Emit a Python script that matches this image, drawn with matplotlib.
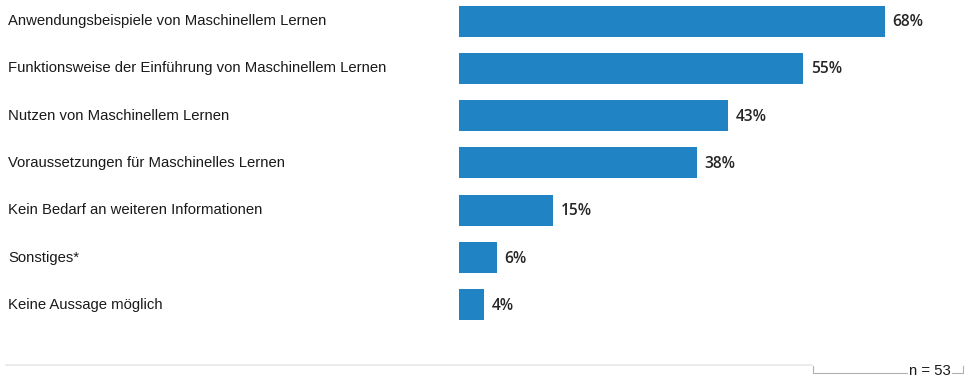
import matplotlib.pyplot as plt
import matplotlib.transforms as mtransforms
from matplotlib.lines import Line2D

categories = [
    "Anwendungsbeispiele von Maschinellem Lernen",
    "Funktionsweise der Einführung von Maschinellem Lernen",
    "Nutzen von Maschinellem Lernen",
    "Voraussetzungen für Maschinelles Lernen",
    "Kein Bedarf an weiteren Informationen",
    "Sonstiges*",
    "Keine Aussage möglich",
]
values = [68, 55, 43, 38, 15, 6, 4]
note = "n = 53"

W, H = 978, 380
plt.rcParams['font.family'] = ['Liberation Sans', 'DejaVu Sans']
fig = plt.figure(figsize=(W / 100, H / 100), dpi=100)

# axes: x from 459px to 959px, y from 0px to 340px
ax = fig.add_axes([459 / W, 1 - 340 / H, 500 / W, 340 / H])
unit = 47.33
ax.set_xlim(0, 500 / 6.26)
ax.set_ylim((340 - 21) / unit, -21 / unit)
ax.axis('off')

pos = list(range(len(categories)))
ax.barh(pos, values, height=31 / unit, color='#1f83c4')

trans = mtransforms.blended_transform_factory(fig.transFigure, ax.transData)
for p, cat, v in zip(pos, categories, values):
    ax.text(8 / W, p, cat, transform=trans, ha='left', va='center',
            fontsize=10.7, color='#1a1a1a')
    ax.text(v + 1.2, p + 0.02, f"{v}%", ha='left', va='center',
            fontsize=11.2, fontweight='semibold', color='#262626',
            family=['Open Sans', 'DejaVu Sans'])

# bottom rule and note bracket
fig.add_artist(Line2D([6 / W, 812 / W], [1 - 365 / H, 1 - 365 / H],
                      color='#e8e8e8', lw=1.2))
fig.add_artist(Line2D([813 / W, 813 / W, 963 / W, 963 / W],
                      [1 - 366 / H, 1 - 373 / H, 1 - 373 / H, 1 - 366 / H],
                      color='#b0b0b0', lw=0.8))
fig.text(930 / W, 1 - 371 / H, note, ha='center', va='center',
         fontsize=10.7, color='#1a1a1a',
         bbox=dict(facecolor='white', edgecolor='none', pad=0.5))

fig.savefig('out.png', dpi=100)
